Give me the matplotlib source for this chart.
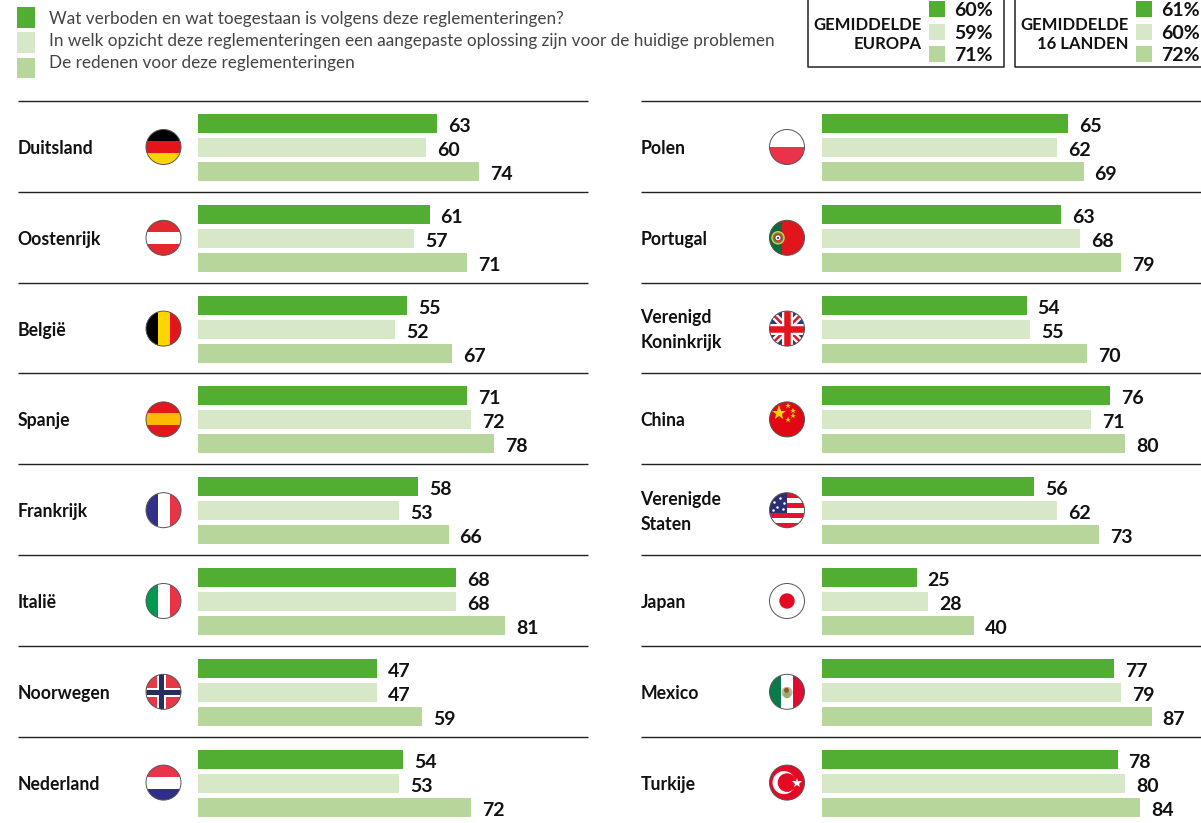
import matplotlib
matplotlib.use('Agg')
import matplotlib.pyplot as plt
from matplotlib.patches import Circle, Rectangle

plt.rcParams['font.family'] = ['Lato', 'DejaVu Sans']

landen_links = ['Duitsland', 'Oostenrijk', 'België', 'Spanje', 'Frankrijk', 'Italië', 'Noorwegen', 'Nederland']
verboden_links = [63, 61, 55, 71, 58, 68, 47, 54]
oplossing_links = [60, 57, 52, 72, 53, 68, 47, 53]
redenen_links = [74, 71, 67, 78, 66, 81, 59, 72]

landen_rechts = ['Polen', 'Portugal', 'Verenigd\nKoninkrijk', 'China', 'Verenigde\nStaten', 'Japan', 'Mexico', 'Turkije']
verboden_rechts = [65, 63, 54, 76, 56, 25, 77, 78]
oplossing_rechts = [62, 68, 55, 71, 62, 28, 79, 80]
redenen_rechts = [69, 79, 70, 80, 73, 40, 87, 84]

legenda = ['Wat verboden en wat toegestaan is volgens deze reglementeringen?',
           'In welk opzicht deze reglementeringen een aangepaste oplossing zijn voor de huidige problemen',
           'De redenen voor deze reglementeringen']
gemiddelde_europa = [60, 59, 71]
gemiddelde_landen = [61, 60, 72]

GROEN = '#52ae32'
LICHT = '#d7e8c9'
MIDDEN = '#b6d69b'
kleuren = [GROEN, LICHT, MIDDEN]
TEKST = '#111111'
W, H = 1201, 823
RIJ = 90.8
PX = 72 / 100  # one pixel in points

fig = plt.figure(figsize=(W / 100, H / 100), dpi=100)
bg = fig.add_axes([0, 0, 1, 1])
bg.set_xlim(0, W)
bg.set_ylim(H, 0)
bg.axis('off')


def bars(x0, x1, waarden):
    # one axes per column, x in percent, y in rows
    ax = fig.add_axes([x0 / W, (H - 101 - 8 * RIJ) / H, (x1 - x0) / W, 8 * RIJ / H])
    ax.set_xlim(0, (x1 - x0) / 3.79)
    ax.set_ylim(8, 0)
    ax.axis('off')
    ax.patch.set_alpha(0)
    for j, reeks in enumerate(waarden):
        pos = [i + 0.512 + (j - 1) * 0.264 for i in range(8)]
        ax.barh(pos, reeks, height=0.209, color=kleuren[j], linewidth=0)
        for p, v in zip(pos, reeks):
            ax.annotate(str(v), (v, p), xytext=(11 * PX, -3 * PX), textcoords='offset points',
                        va='center', ha='left', fontsize=14, fontweight='bold',
                        color=TEKST, annotation_clip=False)


def rijen(x0, x1, namen):
    for i in range(8):
        bg.plot([x0, x1], [101 + i * RIJ] * 2, color='#222222', lw=1.0, solid_capstyle='butt')
    for i, naam in enumerate(namen):
        bg.text(x0 - 0.5, 148.5 + i * RIJ, naam, va='center', ha='left', fontsize=12.7, fontweight='bold',
                color=TEKST, linespacing=1.55)


def schijf(cx, cy, basis='white'):
    c = Circle((cx, cy), 17.5, facecolor=basis, edgecolor='none', zorder=3)
    bg.add_patch(c)
    return c


def rand(cx, cy):
    bg.add_patch(Circle((cx, cy), 17.5, facecolor='none', edgecolor='#555555', lw=0.7, zorder=8))


def blok(c, x, y, w, h, kleur, z=4):
    r = Rectangle((x, y), w, h, facecolor=kleur, edgecolor='none', zorder=z)
    bg.add_patch(r)
    r.set_clip_path(c)
    return r


def lijn(c, xs, ys, kleur, dikte, z=5):
    l, = bg.plot(xs, ys, color=kleur, lw=dikte * PX, zorder=z, solid_capstyle='butt')
    l.set_clip_path(c)


def vlag_h(cx, cy, banden):
    c = schijf(cx, cy)
    for k, kl in enumerate(banden):
        blok(c, cx - 18, cy - 18 + k * 36 / len(banden), 36, 36 / len(banden) + 0.3, kl)
    rand(cx, cy)


def vlag_v(cx, cy, banden):
    c = schijf(cx, cy)
    for k, kl in enumerate(banden):
        blok(c, cx - 18 + k * 36 / len(banden), cy - 18, 36 / len(banden) + 0.3, 36, kl)
    rand(cx, cy)


def noorwegen(cx, cy):
    c = schijf(cx, cy, '#e63946')
    lijn(c, [cx - 18, cx + 18], [cy, cy], 'white', 9)
    lijn(c, [cx - 3, cx - 3], [cy - 18, cy + 18], 'white', 9)
    lijn(c, [cx - 18, cx + 18], [cy, cy], '#232f5f', 5)
    lijn(c, [cx - 3, cx - 3], [cy - 18, cy + 18], '#232f5f', 5)
    rand(cx, cy)


def portugal(cx, cy):
    c = schijf(cx, cy, '#e2141c')
    blok(c, cx - 18, cy - 18, 13, 36, '#0b6b3a')
    for r, kl in [(6.8, '#d9c94a'), (5.4, '#4a9a48'), (3.9, '#d8232a'), (2.5, 'white')]:
        bg.add_patch(Circle((cx - 9, cy), r, facecolor=kl, edgecolor='none', zorder=5))
    bg.plot([cx - 9], [cy], marker='s', ms=1.8, color='#3a5aa8', mew=0, zorder=6)
    rand(cx, cy)


def uk(cx, cy):
    c = schijf(cx, cy, '#2f3a7e')
    lijn(c, [cx - 18, cx + 18], [cy - 18, cy + 18], 'white', 7)
    lijn(c, [cx - 18, cx + 18], [cy + 18, cy - 18], 'white', 7)
    lijn(c, [cx - 18, cx + 18], [cy - 18, cy + 18], '#e2141c', 2.5)
    lijn(c, [cx - 18, cx + 18], [cy + 18, cy - 18], '#e2141c', 2.5)
    lijn(c, [cx - 18, cx + 18], [cy, cy], 'white', 11)
    lijn(c, [cx, cx], [cy - 18, cy + 18], 'white', 11)
    lijn(c, [cx - 18, cx + 18], [cy, cy], '#e2141c', 6.5)
    lijn(c, [cx, cx], [cy - 18, cy + 18], '#e2141c', 6.5)
    rand(cx, cy)


def china(cx, cy):
    schijf(cx, cy, '#e30613')
    bg.plot([cx - 8], [cy - 6.5], marker='*', ms=11, color='#ffd500', mew=0, zorder=6)
    for dx, dy in [(1.3, -13), (5.7, -8.7), (5.7, -3.4), (1.3, 1)]:
        bg.plot([cx + dx], [cy + dy], marker='*', ms=4, color='#ffd500', mew=0, zorder=6)
    rand(cx, cy)


def vs(cx, cy):
    c = schijf(cx, cy)
    for k in range(7):
        if k % 2 == 0:
            blok(c, cx - 18, cy - 17.5 + k * 5, 36, 5, '#e2142d')
    blok(c, cx - 18, cy - 18, 18, 20.5, '#2a2f72', 5)
    for dx, dy in [(-13, -8), (-7, -12), (-3, -7), (-10, -3), (-4, -1), (-14, 0)]:
        bg.plot([cx + dx], [cy + dy], marker='o', ms=1.8, color='white', mew=0, zorder=6)
    rand(cx, cy)


def japan(cx, cy):
    schijf(cx, cy)
    bg.add_patch(Circle((cx, cy), 7.7, facecolor='#e30b24', edgecolor='none', zorder=5))
    rand(cx, cy)


def mexico(cx, cy):
    vlag_v(cx, cy, ['#0a7a4b', 'white', '#dc0c32'])
    bg.add_patch(Circle((cx, cy + 0.5), 5.5, facecolor='#c9b595', edgecolor='none', zorder=5))
    bg.add_patch(Circle((cx, cy + 3), 3.5, facecolor='#8fb07a', edgecolor='none', zorder=5))
    bg.add_patch(Circle((cx - 0.5, cy - 1.5), 2.5, facecolor='#8a5a30', edgecolor='none', zorder=6))


def turkije(cx, cy):
    schijf(cx, cy, '#e30a24')
    bg.add_patch(Circle((cx - 3, cy), 11.5, facecolor='white', edgecolor='none', zorder=5))
    bg.add_patch(Circle((cx, cy), 9.3, facecolor='#e30a24', edgecolor='none', zorder=6))
    bg.plot([cx + 10], [cy], marker='*', ms=7.5, color='white', mew=0, zorder=7)
    rand(cx, cy)


vlaggen_links = [
    lambda x, y: vlag_h(x, y, ['#000000', '#e3141a', '#ffd200']),
    lambda x, y: vlag_h(x, y, ['#e5282e', 'white', '#e5282e']),
    lambda x, y: vlag_v(x, y, ['#000000', '#ffd500', '#e3141a']),
    lambda x, y: vlag_h(x, y, ['#e3161d', '#fdba00', '#e3161d']),
    lambda x, y: vlag_v(x, y, ['#31318a', 'white', '#ea3347']),
    lambda x, y: vlag_v(x, y, ['#009a4e', 'white', '#ea3347']),
    noorwegen,
    lambda x, y: vlag_h(x, y, ['#e8334a', 'white', '#2f2f8a']),
]
vlaggen_rechts = [
    lambda x, y: vlag_h(x, y, ['white', '#ea3349']),
    portugal, uk, china, vs, japan, mexico, turkije,
]

rijen(18, 588, landen_links)
rijen(641, W, landen_rechts)
bars(198.4, 588, [verboden_links, oplossing_links, redenen_links])
bars(822, W, [verboden_rechts, oplossing_rechts, redenen_rechts])

for i in range(8):
    vlaggen_links[i](163.5, 147 + i * RIJ)
    vlaggen_rechts[i](787, 147 + i * RIJ)

# legend at the top left
for tekst, kleur, y, ty in zip(legenda, kleuren, [7, 32, 57.5], [19, 41, 62.5]):
    bg.add_patch(Rectangle((17, y), 18, 20.5, facecolor=kleur, edgecolor='none'))
    bg.text(49, ty, tekst, va='center', ha='left', fontsize=12.3, fontweight='normal', color='#444444')


def kader(x0, x1, regels, waarden):
    bg.plot([x0, x0, x1, x1], [-2, 67, 67, -2], color='#222222', lw=1.1, clip_on=False)
    for r, y in zip(regels, [24.5, 43.5]):
        bg.text(x0 + 114, y, r, va='center', ha='right', fontsize=12, fontweight='bold', color=TEKST)
    for v, kleur, y, ty in zip(waarden, kleuren, [1, 24, 46], [10, 33, 55.5]):
        bg.add_patch(Rectangle((x0 + 121, y), 16, 16, facecolor=kleur, edgecolor='none'))
        bg.text(x0 + 147, ty, f'{v}%', va='center', ha='left', fontsize=14, fontweight='bold', color=TEKST)


kader(807.5, 1004, ['GEMIDDELDE', 'EUROPA'], gemiddelde_europa)
kader(1014.5, 1210, ['GEMIDDELDE', '16 LANDEN'], gemiddelde_landen)

plt.savefig('out.png', dpi=100)
